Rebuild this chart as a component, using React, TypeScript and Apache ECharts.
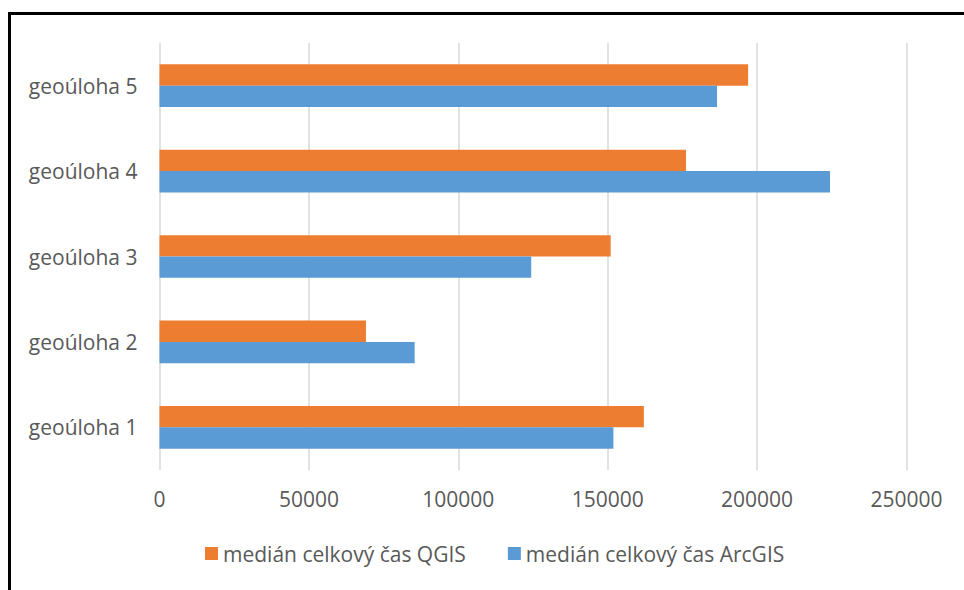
import React, { useEffect, useRef } from "react";
import * as echarts from "echarts";

const categories = ["geoúloha 1", "geoúloha 2", "geoúloha 3", "geoúloha 4", "geoúloha 5"];
const qgisValues = [162100, 69100, 151000, 176200, 197000];
const arcgisValues = [151900, 85400, 124400, 224400, 186600];
const seriesNames = ["medián celkový čas QGIS", "medián celkový čas ArcGIS"];
const xMax = 250000;
const xInterval = 50000;

const FONT = "'Open Sans', 'Noto Sans', sans-serif";
const TEXT = "#595959";

export default function App() {
  const ref = useRef<HTMLDivElement>(null);
  useEffect(() => {
    if (!ref.current) return;
    const chart = echarts.init(ref.current, undefined, { renderer: "svg" });
    chart.setOption({
      animation: false,
      backgroundColor: "#ffffff",
      textStyle: { fontFamily: FONT },
      grid: { left: 159.5, right: 57.5, top: 43, bottom: 120, containLabel: false },
      legend: {
        left: 205,
        top: 543,
        padding: 0,
        itemWidth: 13,
        itemHeight: 13,
        itemGap: 42,
        icon: "rect",
        textStyle: { color: TEXT, fontSize: 21, fontFamily: FONT },
        data: seriesNames,
      },
      xAxis: {
        type: "value",
        min: 0,
        max: xMax,
        interval: xInterval,
        axisLine: { show: false },
        axisTick: { show: false },
        splitLine: { show: true, lineStyle: { color: "#D9D9D9", width: 1.5 } },
        axisLabel: {
          color: TEXT,
          fontSize: 21,
          fontFamily: FONT,
          margin: 18,
          formatter: (v: number) => String(v),
        },
      },
      yAxis: {
        type: "category",
        data: categories,
        axisLine: { show: false },
        axisTick: { show: false },
        splitLine: { show: false },
        axisLabel: { color: TEXT, fontSize: 21, fontFamily: FONT, margin: 22 },
      },
      series: [
        {
          name: seriesNames[0],
          type: "bar",
          data: qgisValues,
          itemStyle: { color: "#ED7D31" },
          barGap: "0%",
          barCategoryGap: "50%",
        },
        {
          name: seriesNames[1],
          type: "bar",
          data: arcgisValues,
          itemStyle: { color: "#5B9BD5" },
          barGap: "0%",
          barCategoryGap: "50%",
        },
      ],
      graphic: [
        { type: "rect", shape: { x: 8, y: 12, width: 960, height: 3 }, style: { fill: "#000" }, silent: true },
        { type: "rect", shape: { x: 8, y: 12, width: 3, height: 590 }, style: { fill: "#000" }, silent: true },
      ],
    });
    return () => chart.dispose();
  }, []);
  return (
    <div
      ref={ref}
      style={{ position: "fixed", left: 0, top: 0, width: 964, height: 590 }}
    />
  );
}
